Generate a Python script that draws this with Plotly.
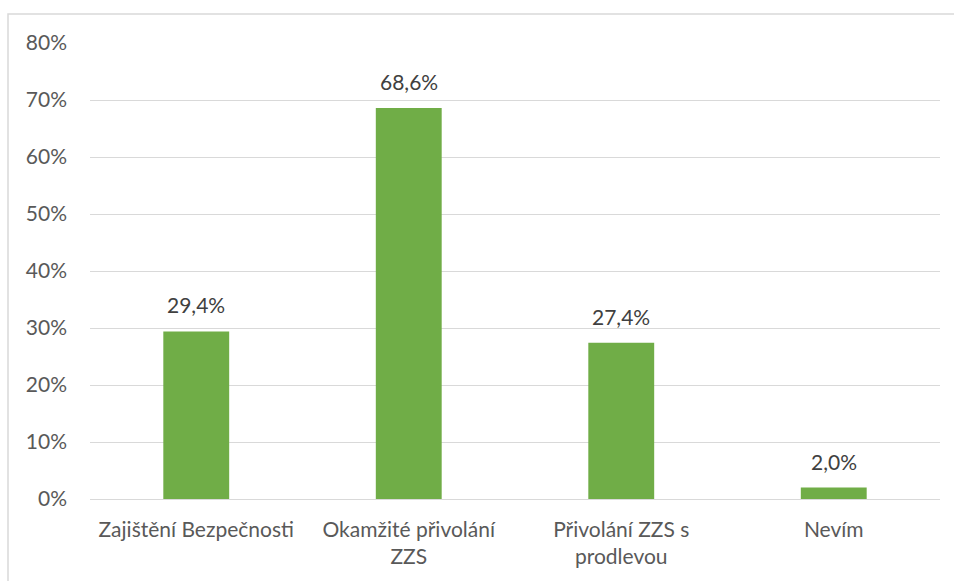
import plotly.graph_objects as go

categories = ["Zajištění Bezpečnosti", "Okamžité přivolání ZZS", "Přivolání ZZS s prodlevou", "Nevím"]
tick_labels = ["Zajištění Bezpečnosti", "Okamžité přivolání<br>ZZS", "Přivolání ZZS s<br>prodlevou", "Nevím"]
shares = [0.294, 0.686, 0.274, 0.020]
y_ticks = [0, 0.1, 0.2, 0.3, 0.4, 0.5, 0.6, 0.7, 0.8]

FONT = "Lato, 'Open Sans', sans-serif"
TEXT = "#595959"
SIZE = 21

fig = go.Figure(
    go.Bar(
        x=categories,
        y=shares,
        marker=dict(color="#70ad47", line=dict(width=0)),
        width=0.31,
        hoverinfo="skip",
    )
)

# value labels above each bar, with decimal comma
for cat, val in zip(categories, shares):
    fig.add_annotation(
        x=cat,
        y=val,
        text=f"{val * 100:.1f}%".replace(".", ","),
        showarrow=False,
        yanchor="bottom",
        yshift=12,
        font=dict(family=FONT, size=SIZE, color="#404040"),
    )

fig.update_layout(
    width=954,
    height=581,
    margin=dict(l=90, r=14, t=43, b=82),
    paper_bgcolor="white",
    plot_bgcolor="white",
    separators=", ",
    showlegend=False,
    font=dict(family=FONT, size=SIZE, color=TEXT),
    xaxis=dict(
        tickmode="array",
        tickvals=categories,
        ticktext=tick_labels,
        showgrid=False,
        showline=False,
        ticks="",
        ticklabelstandoff=16,
        tickfont=dict(family=FONT, size=SIZE, color=TEXT),
    ),
    yaxis=dict(
        range=[0, 0.8],
        tickvals=y_ticks,
        tickformat=".0%",
        showgrid=True,
        gridcolor="#d9d9d9",
        gridwidth=1,
        zeroline=True,
        zerolinecolor="#d9d9d9",
        zerolinewidth=1,
        showline=False,
        ticks="",
        ticklabelstandoff=22,
        tickfont=dict(family=FONT, size=SIZE, color=TEXT),
    ),
    shapes=[
        dict(
            type="rect",
            xref="paper",
            yref="paper",
            x0=(8 - 90) / 850,
            x1=1.2,
            y0=-0.4,
            y1=(499 - 14) / 456,
            line=dict(color="#d9d9d9", width=1.5),
            fillcolor="rgba(0,0,0,0)",
            layer="below",
        )
    ],
)

fig.write_html("out.html")
